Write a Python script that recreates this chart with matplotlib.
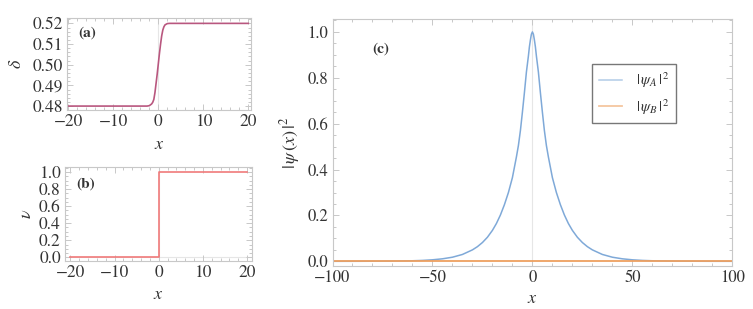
import matplotlib
matplotlib.use("Agg")
import matplotlib.pyplot as plt
from matplotlib.ticker import MultipleLocator, FormatStrFormatter

plt.rcParams['font.family'] = ['STIXGeneral', 'DejaVu Serif']
plt.rcParams['mathtext.fontset'] = 'stix'
plt.rcParams['axes.unicode_minus'] = True

# ---- data (a) ----
delta_x = [-20, -2.5, -2.0, -1.5, -1.25, -1.0, -0.75, -0.5, -0.25, 0.0,
           0.25, 0.5, 0.75, 1.0, 1.25, 1.5, 2.0, 2.5, 20]
delta_y = [0.4800, 0.4800, 0.4802, 0.4810, 0.4818, 0.4832, 0.4865, 0.4910, 0.4955, 0.5005,
           0.5055, 0.5100, 0.5140, 0.5168, 0.5184, 0.5193, 0.5199, 0.5200, 0.5200]

# ---- data (b) ----
nu_x = [-20, 0, 0, 20]
nu_y = [0.0, 0.0, 1.0, 1.0]

# ---- data (c) ----
psi_x = [-100, -90, -80, -70, -60, -55, -50, -45, -40, -35, -30, -27.5, -25, -22.5, -20, -18, -16, -14,
         -12, -10, -9, -8, -7, -6, -5, -4, -3, -2.5, -2, -1.5, -1, -0.5,
         0, 0.5, 1, 1.5, 2, 2.5, 3, 4, 5, 6, 7, 8, 9, 10, 12, 14, 16, 18, 20, 22.5, 25, 27.5, 30,
         35, 40, 45, 50, 55, 60, 70, 80, 90, 100]
psiA = [0.0001, 0.0002, 0.0005, 0.0010, 0.0025, 0.004, 0.0067, 0.011, 0.018, 0.030, 0.050, 0.064, 0.082,
        0.105, 0.135, 0.165, 0.202, 0.247, 0.300, 0.365, 0.410, 0.455, 0.505, 0.570, 0.650, 0.735,
        0.825, 0.860, 0.895, 0.935, 0.965, 0.990,
        1.0, 0.990, 0.965, 0.935, 0.895, 0.860, 0.825, 0.735, 0.650, 0.570, 0.505, 0.455, 0.410,
        0.365, 0.300, 0.247, 0.202, 0.165, 0.135, 0.105, 0.082, 0.064, 0.050, 0.030, 0.018, 0.011,
        0.0067, 0.004, 0.0025, 0.0010, 0.0005, 0.0002, 0.0001]
psiB_x = [-100, 100]
psiB = [0.0, 0.0]

FRAME = '#c8c8c8'
TXT = '#333333'

fig = plt.figure(figsize=(7.53, 3.09), dpi=100)

def style(ax, xmaj, xmin, ymaj, ymin, yfmt, fs):
    for s in ax.spines.values():
        s.set_color(FRAME)
        s.set_linewidth(0.8)
    ax.xaxis.set_major_locator(MultipleLocator(xmaj))
    ax.xaxis.set_minor_locator(MultipleLocator(xmin))
    ax.yaxis.set_major_locator(MultipleLocator(ymaj))
    ax.yaxis.set_minor_locator(MultipleLocator(ymin))
    ax.yaxis.set_major_formatter(FormatStrFormatter(yfmt))
    ax.tick_params(which='both', direction='in', color=FRAME, top=True, right=True,
                   labelsize=fs, labelcolor=TXT, width=0.7)
    ax.tick_params(which='major', length=4, pad=3)
    ax.tick_params(which='minor', length=2)

# (a)
axa = fig.add_axes([67/753, 1-110/309, (251-67)/753, (110-18)/309])
axa.axvline(0, color='#e6e6e6', lw=0.8, zorder=0)
axa.plot(delta_x, delta_y, color='#b9577f', lw=1.2)
axa.set_xlim(-20.3, 20.6)
axa.set_ylim(0.4781, 0.5226)
style(axa, 10, 2, 0.01, 0.002, '%.2f', 12.5)
axa.set_xlabel(r'$x$', fontsize=13, color=TXT, labelpad=5)
axa.set_ylabel(r'$\delta$', fontsize=13, color=TXT, labelpad=5)
axa.text(0.06, 0.80, '(a)', transform=axa.transAxes, fontweight='bold', fontsize=11, color=TXT)

# (b)
axb = fig.add_axes([65/753, 1-261/309, (252-65)/753, (261-167)/309])
axb.axvline(0, color='#e6e6e6', lw=0.8, zorder=0)
axb.axhline(0, color='#e6e6e6', lw=0.8, zorder=0)
axb.plot(nu_x, nu_y, color='#f07a7a', lw=1.2)
axb.set_xlim(-21.2, 21.1)
axb.set_ylim(-0.043, 1.059)
style(axb, 10, 2, 0.2, 0.05, '%.1f', 12.5)
axb.set_xlabel(r'$x$', fontsize=13, color=TXT, labelpad=4)
axb.set_ylabel(r'$\nu$', fontsize=13, color=TXT, labelpad=3)
axb.text(0.06, 0.78, '(b)', transform=axb.transAxes, fontweight='bold', fontsize=11, color=TXT)

# (c)
axc = fig.add_axes([332.5/753, 1-265.7/309, (732.3-332.5)/753, (265.7-19.3)/309])
axc.axvline(0, color='#e6e6e6', lw=0.8, zorder=0)
axc.plot(psi_x, psiA, color='#7fa9d8', lw=1.1, label=r'$|\,\psi_A\,|^2$')
axc.plot(psiB_x, psiB, color='#eea060', lw=1.3, label=r'$|\,\psi_B\,|^2$')
axc.set_xlim(-100, 100)
axc.set_ylim(-0.019, 1.055)
style(axc, 50, 10, 0.2, 0.05, '%.1f', 12)
axc.set_xlabel(r'$x$', fontsize=13, color=TXT, labelpad=4)
axc.set_ylabel(r'$|\,\psi\,(x)\,|^2$', fontsize=13, color=TXT, labelpad=4)
axc.text(0.10, 0.865, '(c)', transform=axc.transAxes, fontweight='bold', fontsize=11, color=TXT)
leg = axc.legend(loc='upper left', bbox_to_anchor=(0.649, 0.82), frameon=True, fancybox=False,
                 edgecolor='#555555', fontsize=11, handlelength=1.5, borderpad=0.45,
                 labelspacing=0.45, handletextpad=0.9, borderaxespad=0)
leg.get_frame().set_linewidth(1.0)
for t in leg.get_texts():
    t.set_color(TXT)
for h in leg.get_lines():
    h.set_alpha(0.6)

fig.savefig('out.png', dpi=100)
